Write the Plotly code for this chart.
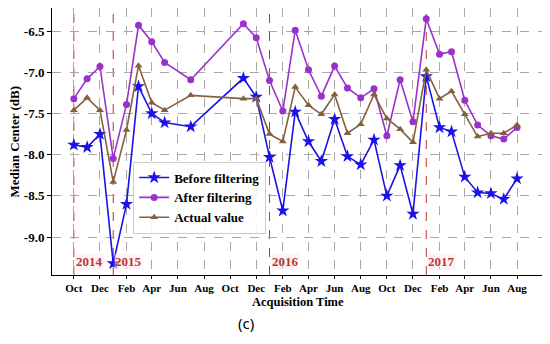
import plotly.graph_objects as go

dates = ["2014-10-01", "2014-11-01", "2014-12-01", "2015-01-01", "2015-02-01", "2015-03-01",
         "2015-04-01", "2015-05-01", "2015-07-01", "2015-11-01", "2015-12-01", "2016-01-01",
         "2016-02-01", "2016-03-01", "2016-04-01", "2016-05-01", "2016-06-01", "2016-07-01",
         "2016-08-01", "2016-09-01", "2016-10-01", "2016-11-01", "2016-12-01", "2017-01-01",
         "2017-02-01", "2017-03-01", "2017-04-01", "2017-05-01", "2017-06-01", "2017-07-01",
         "2017-08-01"]

before_filtering = [-7.88, -7.91, -7.75, -9.32, -8.60, -7.17, -7.50, -7.61, -7.66, -7.07, -7.30,
                    -8.03, -8.68, -7.48, -7.84, -8.08, -7.57, -8.02, -8.12, -7.82, -8.50, -8.13,
                    -8.72, -7.05, -7.67, -7.72, -8.27, -8.46, -8.47, -8.54, -8.29]

after_filtering = [-7.32, -7.08, -6.93, -8.045, -7.39, -6.43, -6.63, -6.88, -7.09, -6.41, -6.58,
                   -7.10, -7.47, -6.49, -6.97, -7.29, -6.925, -7.19, -7.31, -7.20, -7.77, -7.09,
                   -7.60, -6.35, -6.78, -6.75, -7.34, -7.64, -7.77, -7.81, -7.67]

actual_value = [-7.46, -7.31, -7.46, -8.33, -7.70, -6.92, -7.37, -7.46, -7.28, -7.32, -7.32,
                -7.75, -7.84, -7.18, -7.40, -7.51, -7.27, -7.74, -7.63, -7.27, -7.56, -7.69,
                -7.85, -6.97, -7.32, -7.23, -7.51, -7.78, -7.74, -7.74, -7.64]

year_lines = ["2014-10-01", "2015-01-01", "2016-01-01", "2017-01-01"]
year_labels = ["2014", "2015", "2016", "2017"]

y_ticks = [-9.0, -8.5, -8.0, -7.5, -7.0, -6.5]

serif = "Liberation Serif"
BLUE = "#1a12e6"
PURPLE = "#9932cc"
BROWN = "#85603f"
RED = "#b8382c"

fig = go.Figure()
fig.add_trace(go.Scatter(x=dates, y=before_filtering, mode="lines+markers",
                         name="<b>Before filtering</b>",
                         line=dict(color=BLUE, width=1.6),
                         marker=dict(symbol="star", size=10, color=BLUE)))
fig.add_trace(go.Scatter(x=dates, y=after_filtering, mode="lines+markers",
                         name="<b>After filtering</b>",
                         line=dict(color=PURPLE, width=1.6),
                         marker=dict(symbol="circle", size=7, color=PURPLE)))
fig.add_trace(go.Scatter(x=dates, y=actual_value, mode="lines+markers",
                         name="<b>Actual value</b>",
                         line=dict(color=BROWN, width=1.6),
                         marker=dict(symbol="triangle-up", size=7, color=BROWN)))

for d, lab in zip(year_lines, year_labels):
    fig.add_shape(type="line", xref="x", yref="paper", x0=d, x1=d, y0=0, y1=1,
                  line=dict(color=RED, width=1, dash="dash"), layer="between")
    fig.add_annotation(x=d, xref="x", y=-9.3, yref="y", text="<b>%s</b>" % lab, showarrow=False,
                       xanchor="left", xshift=1, font=dict(family=serif, size=13, color=RED),
                       bgcolor="rgba(255,232,240,0.5)", borderpad=0)

fig.add_annotation(x=0.5, xref="paper", y=-0.1, yref="paper", text="<b>Acquisition Time</b>",
                   showarrow=False, xanchor="center", yanchor="middle",
                   font=dict(family=serif, size=12.5, color="black"))
fig.add_annotation(x=-0.077, xref="paper", y=0.5, yref="paper", text="<b>Median Center (dB)</b>",
                   showarrow=False, textangle=-90, xanchor="center", yanchor="middle",
                   font=dict(family=serif, size=13, color="black"))
fig.add_annotation(x=0.394, xref="paper", y=-0.18, yref="paper", text="(c)",
                   showarrow=False, xanchor="center", yanchor="middle",
                   font=dict(family="Noto Sans", size=15, color="black"))

# The page body has an 8px default margin; size the figure so it fits the 550x344 window.
fig.update_layout(
    width=542, height=336,
    margin=dict(l=44, r=6, t=0, b=69),
    paper_bgcolor="white", plot_bgcolor="white",
    showlegend=True,
    legend=dict(x=0.165, y=0.425, xanchor="left", yanchor="top",
                bgcolor="rgba(255,255,255,0.85)", bordercolor="#cccccc", borderwidth=1,
                font=dict(family=serif, size=13, color="black"), itemwidth=30,
                tracegroupgap=0),
    font=dict(family=serif, color="black"),
)
fig.update_xaxes(type="date", range=["2014-08-11", "2017-10-03"],
                 tick0="2014-10-01", dtick="M2", tickformat="<b>%b</b>",
                 showgrid=True, gridcolor="#a8a8a8", griddash="dash", gridwidth=1,
                 showline=True, linecolor="black", linewidth=1, mirror=True,
                 ticks="outside", ticklen=3, tickcolor="black",
                 tickfont=dict(family=serif, size=11, color="black"), zeroline=False)
fig.update_yaxes(range=[-9.46, -6.22], tickvals=y_ticks,
                 ticktext=["<b>%.1f</b>" % v for v in y_ticks],
                 showgrid=True, gridcolor="#a8a8a8", griddash="dash", gridwidth=1,
                 showline=True, linecolor="black", linewidth=1, mirror=True,
                 ticks="outside", ticklen=4, tickcolor="black",
                 tickfont=dict(family=serif, size=13, color="black"), zeroline=False)

fig.write_html("out.html")
